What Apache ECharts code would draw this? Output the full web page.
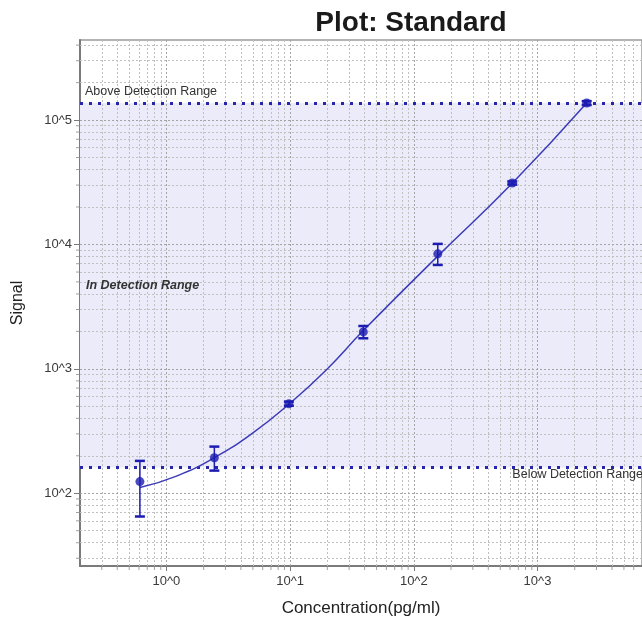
<!DOCTYPE html>
<html>
<head>
<meta charset="utf-8">
<script src="https://cdn.jsdelivr.net/npm/echarts@6/dist/echarts.min.js"></script>
<style>
  html, body { margin: 0; padding: 0; background: #ffffff; }
  #chart { width: 642px; height: 622px; }
</style>
</head>
<body>
<div id="chart"></div>
<script>
// Standard curve: concentration (pg/ml) vs. signal, log-log
const concentration = [0.61, 2.44, 9.77, 39.06, 156.25, 625, 2500];
const signalMean    = [124, 193, 524, 1980, 8400, 31200, 137000];
const signalLow     = [65, 152, 505, 1760, 6840, 30300, 132000];
const signalHigh    = [182, 237, 545, 2210, 10100, 32100, 142000];

// Fitted curve
const fitConc   = [0.61, 1.22, 2.44, 4.88, 9.77, 19.5, 39.06, 156.25, 625, 2500];
const fitSignal = [111, 138, 193, 300, 520, 975, 2030, 8050, 31000, 137000];

// Detection limits
const upperLimit = 137000;
const lowerLimit = 161;

// Axis ranges and decade labels
const xRange = [0.2, 7000];
const yRange = [26, 440000];
const xTickExp = [0, 1, 2, 3];
const xTickLabels = ['10^0', '10^1', '10^2', '10^3'];
const yTickExp = [2, 3, 4, 5];
const yTickLabels = ['10^2', '10^3', '10^4', '10^5'];

const markColor = '#1c1cb2';
const lineColor = '#3c3cb8';

function decadeLabel(exps, labels) {
  return function (v) {
    const e = Math.round(Math.log10(v));
    if (Math.abs(Math.log10(v) - e) > 1e-6) return '';
    const i = exps.indexOf(e);
    return i >= 0 ? labels[i] : '';
  };
}

// 1..9 x 10^e grid values inside a range
function logGridValues(range) {
  const out = [];
  const e0 = Math.floor(Math.log10(range[0]));
  const e1 = Math.ceil(Math.log10(range[1]));
  for (let e = e0; e <= e1; e++) {
    for (let m = 1; m <= 9; m++) {
      const v = +(m * Math.pow(10, e)).toPrecision(6);
      if (v > range[0] && v < range[1]) out.push({ v: v, major: m === 1 });
    }
  }
  return out;
}

const xGrid = logGridValues(xRange);
const yGrid = logGridValues(yRange);

const gridLineData = [];
xGrid.forEach(g => gridLineData.push({
  xAxis: g.v,
  lineStyle: { color: g.major ? '#a4a4a4' : '#c0c0c0', type: [2, 2], width: 1 }
}));
yGrid.forEach(g => gridLineData.push({
  yAxis: g.v,
  lineStyle: { color: g.major ? '#a4a4a4' : '#c0c0c0', type: [2, 2], width: 1 }
}));

// short outward ticks at minor positions
const yMinorTicks = yGrid.filter(g => !g.major).map(g => [xRange[0], g.v]);
const xMinorTicks = xGrid.filter(g => !g.major).map(g => [g.v, yRange[0]]);

const chart = echarts.init(document.getElementById('chart'));

chart.setOption({
  animation: false,
  backgroundColor: '#ffffff',
  title: {
    text: 'Plot: Standard',
    left: 406,
    top: 4,
    textAlign: 'center',
    textStyle: { fontFamily: 'Liberation Sans', fontWeight: 'bold', fontSize: 28, color: '#1a1a1a' }
  },
  grid: {
    left: 80, right: -2, top: 40, bottom: 56,
    show: true, borderColor: '#9a9a9a', borderWidth: 1.5, backgroundColor: '#ffffff'
  },
  xAxis: {
    type: 'log', logBase: 10, min: xRange[0], max: xRange[1],
    name: 'Concentration(pg/ml)', nameLocation: 'middle', nameGap: 34,
    nameTextStyle: { fontFamily: 'Liberation Sans', fontSize: 17, color: '#222' },
    axisLine: { show: true, lineStyle: { color: '#7a7a7a', width: 2 } },
    axisTick: { show: true, length: 5, lineStyle: { color: '#7a7a7a' } },
    axisLabel: {
      showMinLabel: false, showMaxLabel: false, margin: 9,
      fontFamily: 'Liberation Sans', fontSize: 13, color: '#3a3a3a',
      formatter: decadeLabel(xTickExp, xTickLabels)
    },
    splitLine: { show: false }
  },
  yAxis: {
    type: 'log', logBase: 10, min: yRange[0], max: yRange[1],
    name: 'Signal', nameLocation: 'middle', nameGap: 54, nameRotate: 90,
    nameTextStyle: { fontFamily: 'Liberation Sans', fontSize: 16, color: '#222' },
    axisLine: { show: true, lineStyle: { color: '#7a7a7a', width: 2 } },
    axisTick: { show: true, length: 6, lineStyle: { color: '#7a7a7a' } },
    axisLabel: {
      showMinLabel: false, showMaxLabel: false, margin: 8,
      fontFamily: 'Liberation Sans', fontSize: 13, color: '#3a3a3a',
      formatter: decadeLabel(yTickExp, yTickLabels)
    },
    splitLine: { show: false }
  },
  graphic: [
    { type: 'text', left: 85, top: 85, z: 100,
      style: { text: 'Above Detection Range', font: '12.5px "Liberation Sans"', fill: '#333' } },
    { type: 'text', left: 86, top: 279, z: 100,
      style: { text: 'In Detection Range', font: 'italic bold 12.5px "Liberation Sans"', fill: '#333' } },
    { type: 'text', right: -1, top: 468, z: 100,
      style: { text: 'Below Detection Range', font: '12.5px "Liberation Sans"', fill: '#333' } }
  ],
  series: [
    {
      name: 'band', type: 'line', data: [], z: 1, silent: true,
      markArea: {
        silent: true,
        itemStyle: { color: '#ebebfa' },
        data: [[{ yAxis: lowerLimit }, { yAxis: upperLimit }]]
      }
    },
    {
      name: 'gridlines', type: 'line', data: [], z: 2, silent: true,
      markLine: { silent: true, symbol: 'none', label: { show: false }, data: gridLineData }
    },
    {
      name: 'minorTicks', type: 'scatter', z: 3, silent: true, clip: false,
      data: yMinorTicks, symbol: 'rect', symbolSize: [4, 1], symbolOffset: [-2, 0],
      itemStyle: { color: '#8a8a8a' }
    },
    {
      name: 'minorTicksX', type: 'scatter', z: 3, silent: true, clip: false,
      data: xMinorTicks, symbol: 'rect', symbolSize: [1, 4], symbolOffset: [0, 2],
      itemStyle: { color: '#8a8a8a' }
    },
    {
      name: 'limits', type: 'line', data: [], z: 4, silent: true,
      markLine: {
        silent: true, symbol: 'none', label: { show: false },
        lineStyle: { color: '#2626aa', type: [3, 6], width: 3 },
        data: [{ yAxis: upperLimit }, { yAxis: lowerLimit }]
      }
    },
    {
      name: 'fit', type: 'line', z: 5, smooth: 0.5, showSymbol: false,
      data: fitConc.map((c, i) => [c, fitSignal[i]]),
      lineStyle: { color: lineColor, width: 1.5 }
    },
    {
      name: 'errors', type: 'custom', z: 6,
      data: concentration.map((c, i) => [c, signalLow[i], signalHigh[i]]),
      renderItem: function (params, api) {
        const x = api.value(0);
        const lo = api.coord([x, api.value(1)]);
        const hi = api.coord([x, api.value(2)]);
        const w = 5;
        const st = { stroke: markColor, lineWidth: 1.5 };
        const cap = { stroke: markColor, lineWidth: 2.5 };
        return {
          type: 'group',
          children: [
            { type: 'line', shape: { x1: lo[0], y1: lo[1], x2: hi[0], y2: hi[1] }, style: st },
            { type: 'line', shape: { x1: hi[0] - w, y1: hi[1], x2: hi[0] + w, y2: hi[1] }, style: cap },
            { type: 'line', shape: { x1: lo[0] - w, y1: lo[1], x2: lo[0] + w, y2: lo[1] }, style: cap }
          ]
        };
      }
    },
    {
      name: 'standards', type: 'scatter', z: 7,
      data: concentration.map((c, i) => [c, signalMean[i]]),
      symbol: 'circle', symbolSize: 9,
      itemStyle: { color: markColor }
    }
  ]
});
</script>
</body>
</html>
